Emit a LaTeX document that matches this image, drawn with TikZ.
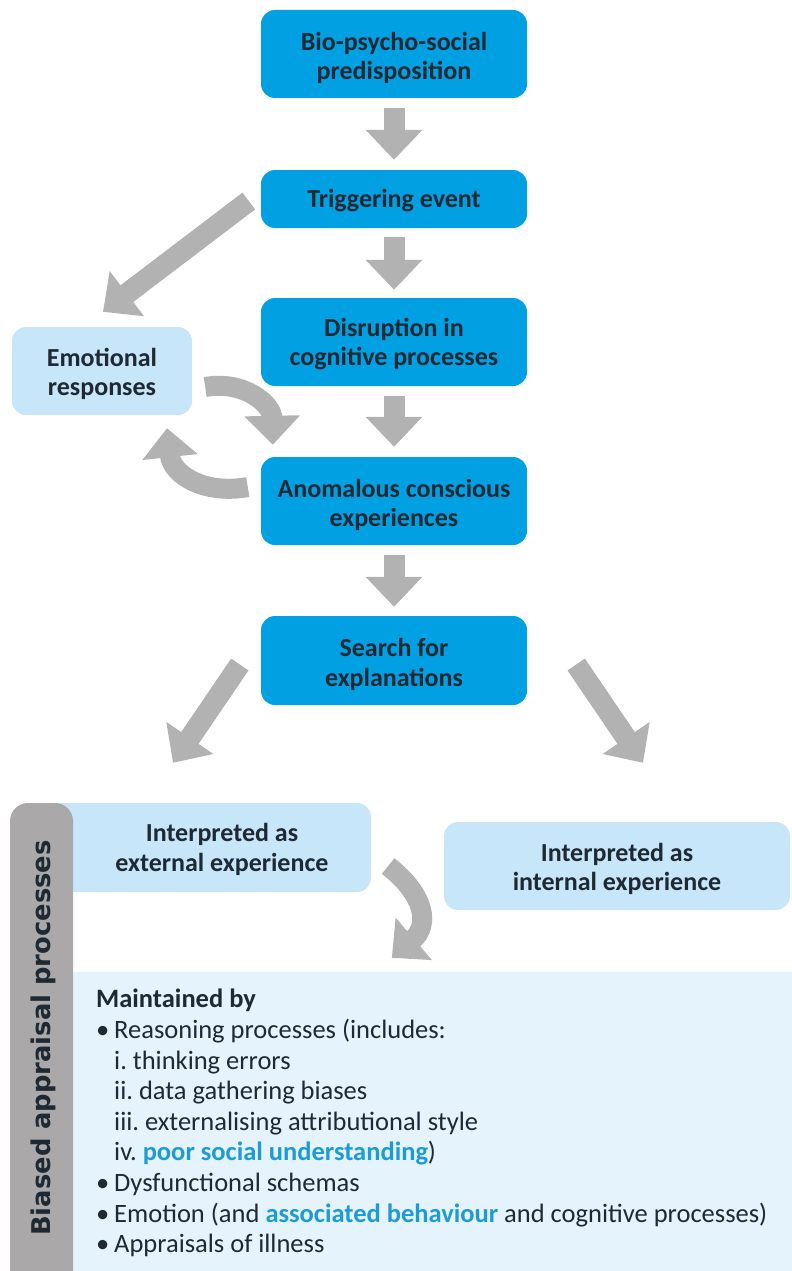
\documentclass[tikz,border=0pt]{standalone}
\usepackage{fontspec}
\setmainfont{Carlito}
\newfontfamily\sidefont{DejaVu Sans}
\usetikzlibrary{arrows.meta,calc}
\definecolor{boxblue}{HTML}{00A0E3}
\definecolor{lightblue}{HTML}{C8E6F9}
\definecolor{paleblue}{HTML}{E5F3FC}
\definecolor{arrowgray}{HTML}{B2B2B2}
\definecolor{sidegray}{HTML}{AAA8A8}
\definecolor{txt}{HTML}{1E2933}
\definecolor{hl}{HTML}{1D9BD8}
\newcommand{\hlt}[1]{\textcolor{hl}{\bfseries #1}}
\frenchspacing
\begin{document}
\begin{tikzpicture}[x=1pt,y=-1pt,
  boxtext/.style={text=txt, align=center, inner sep=0pt, font=\fontsize{26}{29.5}\selectfont\bfseries},
  darkbox/.style={fill=boxblue, rounded corners=14pt, minimum width=266pt, inner sep=0pt},
  lightbox/.style={fill=lightblue, rounded corners=14pt, inner sep=0pt},
  bigarrow/.style={draw=arrowgray, line width=21pt, -{Triangle[width=55pt,length=30pt]}},
  curvarrow/.style={draw=arrowgray, line width=20pt, -{Triangle[width=54pt,length=29pt]}}
]
\useasboundingbox (0,0) rectangle (792,1271);
% main column
\node[darkbox, minimum height=88pt] (b1) at (394,54) {};
\node[boxtext] (t1) at ([yshift=-4pt]b1.center) {Bio-psycho-social\\predisposition};
\node[darkbox, minimum height=58pt] (b2) at (394,199) {};
\node[boxtext] (t2) at ([yshift=-2pt]b2.center) {Triggering event};
\node[darkbox, minimum height=88pt] (b3) at (394,342) {};
\node[boxtext] (t3) at ([yshift=-2pt]b3.center) {Disruption in\\cognitive processes};
\node[darkbox, minimum height=88pt] (b4) at (394,501) {};
\node[boxtext] (t4) at ([yshift=-4pt]b4.center) {Anomalous conscious\\experiences};
\node[darkbox, minimum height=89pt] (b5) at (394,660.5) {};
\node[boxtext] (t5) at ([yshift=-4pt]b5.center) {Search for\\explanations};
\node[lightbox, minimum width=180pt, minimum height=88pt] (emo) at (102,371) {};
\node[boxtext] (temo) at ([yshift=-3pt]emo.center) {Emotional\\responses};
% lower part
\fill[lightblue] (55,803) rectangle (100,892);
\node[lightbox, minimum width=298pt, minimum height=89pt] (ext) at (222,847.5) {};
\node[boxtext] (text) at ([yshift=-2pt]ext.center) {Interpreted as\\external experience};
\node[lightbox, minimum width=346pt, minimum height=88pt] (int) at (617,866) {};
\node[boxtext] (tint) at ([yshift=-3pt]int.center) {Interpreted as\\internal experience};
\node[fill=paleblue, minimum width=719pt, minimum height=299pt, inner sep=0pt] (maint) at (432.5,1121.5) {};
\node[fill=sidegray, rounded corners=18pt, minimum width=63pt, minimum height=500pt, inner sep=0pt] (side) at (41.5,1053) {};
\node[rotate=90, text=txt, font=\sidefont\fontsize{25.8}{30}\selectfont\bfseries] (sidelabel) at (43,1038) {Biased appraisal processes};
\node[anchor=north west, text=txt, align=left, inner sep=0pt, font=\fontsize{26.5}{30.6}\selectfont] (list) at (96,989) {%
{\bfseries Maintained by}\\
\makebox[18pt][l]{•}Reasoning processes (includes:\\
\hspace*{18pt}i. thinking errors\\
\hspace*{18pt}ii. data gathering biases\\
\hspace*{18pt}iii. externalising attributional style\\
\hspace*{18pt}iv. \hlt{poor social understanding})\\
\makebox[18pt][l]{•}Dysfunctional schemas\\
\makebox[18pt][l]{•}Emotion (and \hlt{associated behaviour} and cognitive processes)\\
\makebox[18pt][l]{•}Appraisals of illness};
% straight arrows
\draw[bigarrow, shorten <=10pt, shorten >=10pt] (b1.south) -- (b2.north);
\draw[bigarrow, shorten <=9pt, shorten >=8pt] (b2.south) -- (b3.north);
\draw[bigarrow, shorten <=10pt, shorten >=10pt] (b3.south) -- (b4.north);
\draw[bigarrow, shorten <=10pt, shorten >=9pt] (b4.south) -- (b5.north);
\draw[bigarrow] ($(b2.west)+(-12,2)$) -- ($(emo.north)+(1,-15)$);
\draw[bigarrow] ($(b5.west)+(-21,4)$) -- ($(ext.north)+(-49,-40)$);
\draw[bigarrow] ($(b5.east)+(49,4)$) -- ($(int.north)+(26,-59)$);
% curved arrows
\draw[curvarrow] ($(emo.east)+(13,16)$) .. controls (245,380) and (272,405) .. ($(b4.north west)+(12,-12)$);
\draw[curvarrow] ($(b4.west)+(-13,-14)$) .. controls (205,495) and (172,475) .. ($(emo.south)+(65,13)$);
\draw[curvarrow] ($(ext.east)+(17,18.5)$) .. controls (425,895) and (430,925) .. ($(maint.north west)+(319,-14)$);
\end{tikzpicture}
\end{document}
